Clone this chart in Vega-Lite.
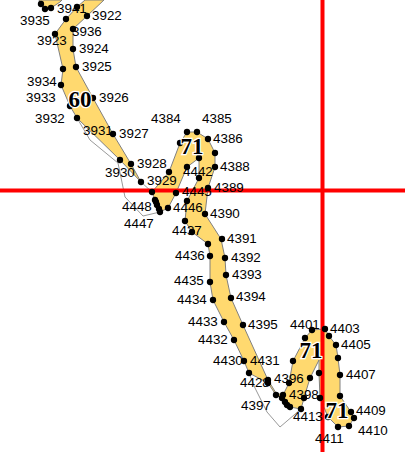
{"$schema":"https://vega.github.io/schema/vega-lite/v6.json","width":405,"height":452,"padding":0,"autosize":{"type":"none"},"background":"white","view":{"stroke":null},
"datasets":{
"polys":[
{"p":"a","o":1,"x":39,"y":0},{"p":"a","o":2,"x":41,"y":4},{"p":"a","o":3,"x":45,"y":9},{"p":"a","o":4,"x":51,"y":8},{"p":"a","o":5,"x":60,"y":2},{"p":"a","o":6,"x":62,"y":0},{"p":"a","o":7,"x":39,"y":0},
{"p":"b","o":1,"x":85,"y":0},{"p":"b","o":2,"x":77,"y":7},{"p":"b","o":3,"x":66,"y":19},{"p":"b","o":4,"x":55,"y":34},{"p":"b","o":5,"x":63,"y":69},{"p":"b","o":6,"x":61,"y":85},{"p":"b","o":7,"x":70,"y":106},{"p":"b","o":8,"x":77,"y":118},{"p":"b","o":9,"x":120,"y":160},{"p":"b","o":10,"x":141,"y":182},{"p":"b","o":11,"x":131,"y":164},{"p":"b","o":12,"x":113,"y":134},{"p":"b","o":13,"x":93,"y":98},{"p":"b","o":14,"x":76,"y":67},{"p":"b","o":15,"x":73,"y":49},{"p":"b","o":16,"x":73,"y":29},{"p":"b","o":17,"x":87,"y":16},{"p":"b","o":18,"x":104,"y":0},{"p":"b","o":19,"x":85,"y":0},
{"p":"c","o":1,"x":152,"y":192},{"p":"c","o":2,"x":169,"y":172},{"p":"c","o":3,"x":180,"y":143},{"p":"c","o":4,"x":187,"y":132},{"p":"c","o":5,"x":197,"y":132},{"p":"c","o":6,"x":208,"y":139},{"p":"c","o":7,"x":215,"y":153},{"p":"c","o":8,"x":215,"y":167},{"p":"c","o":9,"x":208,"y":188},{"p":"c","o":10,"x":205,"y":214},{"p":"c","o":11,"x":221,"y":239},{"p":"c","o":12,"x":225,"y":258},{"p":"c","o":13,"x":226,"y":275},{"p":"c","o":14,"x":231,"y":298},{"p":"c","o":15,"x":243,"y":325},{"p":"c","o":16,"x":268,"y":380},{"p":"c","o":17,"x":276,"y":393},{"p":"c","o":18,"x":283,"y":395},{"p":"c","o":19,"x":289,"y":383},{"p":"c","o":20,"x":293,"y":361},{"p":"c","o":21,"x":305,"y":338},{"p":"c","o":22,"x":312,"y":330},{"p":"c","o":23,"x":325,"y":329},{"p":"c","o":24,"x":329,"y":336},{"p":"c","o":25,"x":336,"y":345},{"p":"c","o":26,"x":338,"y":358},{"p":"c","o":27,"x":340,"y":375},{"p":"c","o":28,"x":340,"y":396},{"p":"c","o":29,"x":351,"y":412},{"p":"c","o":30,"x":354,"y":418},{"p":"c","o":31,"x":349,"y":426},{"p":"c","o":32,"x":338,"y":427},{"p":"c","o":33,"x":328,"y":417},{"p":"c","o":34,"x":320,"y":398},{"p":"c","o":35,"x":319,"y":373},{"p":"c","o":36,"x":319,"y":360},{"p":"c","o":37,"x":310,"y":378},{"p":"c","o":38,"x":304,"y":398},{"p":"c","o":39,"x":301,"y":409},{"p":"c","o":40,"x":290,"y":407},{"p":"c","o":41,"x":285,"y":402},{"p":"c","o":42,"x":282,"y":398},{"p":"c","o":43,"x":276,"y":395},{"p":"c","o":44,"x":268,"y":383},{"p":"c","o":45,"x":249,"y":373},{"p":"c","o":46,"x":244,"y":361},{"p":"c","o":47,"x":234,"y":340},{"p":"c","o":48,"x":224,"y":322},{"p":"c","o":49,"x":213,"y":300},{"p":"c","o":50,"x":210,"y":282},{"p":"c","o":51,"x":210,"y":256},{"p":"c","o":52,"x":208,"y":244},{"p":"c","o":53,"x":192,"y":232},{"p":"c","o":54,"x":185,"y":221},{"p":"c","o":55,"x":187,"y":201},{"p":"c","o":56,"x":199,"y":178},{"p":"c","o":57,"x":199,"y":158},{"p":"c","o":58,"x":187,"y":167},{"p":"c","o":59,"x":176,"y":193},{"p":"c","o":60,"x":168,"y":208},{"p":"c","o":61,"x":160,"y":212},{"p":"c","o":62,"x":157,"y":205},{"p":"c","o":63,"x":155,"y":200},{"p":"c","o":64,"x":152,"y":192}
],
"thin":[
{"p":"d","o":1,"x":77,"y":118},{"p":"d","o":2,"x":90,"y":140},{"p":"d","o":3,"x":118,"y":163},{"p":"d","o":4,"x":125,"y":197},{"p":"d","o":5,"x":143,"y":216},{"p":"d","o":6,"x":160,"y":212},
{"p":"e","o":1,"x":141,"y":182},{"p":"e","o":2,"x":152,"y":192},
{"p":"f","o":1,"x":249,"y":373},{"p":"f","o":2,"x":255,"y":388},{"p":"f","o":3,"x":267,"y":412},{"p":"f","o":4,"x":280,"y":427},{"p":"f","o":5,"x":301,"y":409}
],
"pts":[
{"x":41,"y":4},{"x":45,"y":9},{"x":51,"y":8},{"x":77,"y":7},{"x":66,"y":19},{"x":55,"y":34},{"x":63,"y":69},{"x":61,"y":85},{"x":70,"y":106},{"x":77,"y":118},{"x":120,"y":160},{"x":141,"y":182},{"x":131,"y":164},{"x":113,"y":134},{"x":93,"y":98},{"x":76,"y":67},{"x":73,"y":49},{"x":73,"y":29},{"x":87,"y":16},
{"x":152,"y":192},{"x":169,"y":172},{"x":180,"y":143},{"x":187,"y":132},{"x":197,"y":132},{"x":208,"y":139},{"x":215,"y":153},{"x":215,"y":167},{"x":208,"y":188},{"x":205,"y":214},{"x":222,"y":239},{"x":225,"y":258},{"x":226,"y":275},{"x":231,"y":298},{"x":243,"y":325},{"x":268,"y":380},{"x":268,"y":383},{"x":276,"y":395},{"x":283,"y":395},{"x":289,"y":383},{"x":293,"y":361},{"x":305,"y":338},{"x":312,"y":330},{"x":325,"y":329},{"x":329,"y":336},{"x":336,"y":345},{"x":338,"y":358},{"x":340,"y":375},{"x":340,"y":396},{"x":351,"y":412},{"x":354,"y":418},{"x":349,"y":426},{"x":338,"y":427},{"x":328,"y":417},{"x":320,"y":398},{"x":319,"y":373},{"x":310,"y":378},{"x":304,"y":398},{"x":301,"y":409},{"x":290,"y":407},{"x":287,"y":405},{"x":285,"y":402},{"x":282,"y":398},{"x":249,"y":373},{"x":244,"y":361},{"x":234,"y":340},{"x":224,"y":322},{"x":213,"y":300},{"x":210,"y":282},{"x":210,"y":256},{"x":208,"y":244},{"x":192,"y":232},{"x":185,"y":221},{"x":187,"y":201},{"x":199,"y":178},{"x":199,"y":158},{"x":187,"y":167},{"x":176,"y":193},{"x":168,"y":208},{"x":160,"y":212},{"x":159,"y":209},{"x":157,"y":205},{"x":156,"y":202},{"x":155,"y":200}
],
"labels":[
{"t":"3935","x":20,"y":21},{"t":"3941","x":57,"y":9},{"t":"3922","x":92,"y":16},{"t":"3936","x":72,"y":32},{"t":"3923","x":37,"y":41},{"t":"3924","x":79,"y":49},{"t":"3925","x":82,"y":67},{"t":"3934","x":27,"y":82},{"t":"3933","x":26,"y":98},{"t":"3926","x":99,"y":98},{"t":"3932","x":35,"y":119},{"t":"3931","x":83,"y":131},{"t":"3927","x":119,"y":134},{"t":"3928","x":137,"y":164},{"t":"3930","x":105,"y":173},{"t":"3929","x":147,"y":181},{"t":"4448","x":122,"y":207},{"t":"4447","x":124,"y":224},{"t":"4384","x":151,"y":119},{"t":"4385","x":202,"y":119},{"t":"4386","x":213,"y":139},{"t":"4388","x":220,"y":167},{"t":"4442","x":183,"y":172},{"t":"4445","x":182,"y":192},{"t":"4389","x":214,"y":188},{"t":"4446","x":173,"y":208},{"t":"4390","x":210,"y":214},{"t":"4437","x":172,"y":231},{"t":"4391","x":227,"y":239},{"t":"4436","x":175,"y":256},{"t":"4392","x":231,"y":258},{"t":"4393","x":232,"y":275},{"t":"4435","x":174,"y":281},{"t":"4394","x":236,"y":297},{"t":"4434","x":177,"y":300},{"t":"4433","x":188,"y":322},{"t":"4395","x":248,"y":325},{"t":"4432","x":198,"y":340},{"t":"4430","x":213,"y":361},{"t":"4431","x":250,"y":361},{"t":"4428","x":240,"y":383},{"t":"4396","x":274,"y":379},{"t":"4401","x":290,"y":325},{"t":"4403","x":330,"y":329},{"t":"4405","x":341,"y":345},{"t":"4407","x":346,"y":375},{"t":"4398","x":289,"y":395},{"t":"4397","x":241,"y":406},{"t":"4413","x":293,"y":417},{"t":"4409","x":356,"y":411},{"t":"4410","x":358,"y":431},{"t":"4411","x":315,"y":439}
],
"zones":[{"t":"60","x":80,"y":100},{"t":"71","x":192,"y":147},{"t":"71","x":311,"y":351},{"t":"71","x":337,"y":411}],
"hline":[{"y":190.5}],"vline":[{"x":322.5}]
},
"layer":[
{"data":{"name":"polys"},"mark":{"type":"line","fill":"#FFD96F","filled":true,"stroke":"#808080","strokeWidth":1},"encoding":{"x":{"field":"x","type":"quantitative","scale":{"domain":[0,405],"nice":false,"zero":false},"axis":null},"y":{"field":"y","type":"quantitative","scale":{"domain":[452,0],"nice":false,"zero":false},"axis":null},"detail":{"field":"p"},"order":{"field":"o"}}},
{"data":{"name":"thin"},"mark":{"type":"line","stroke":"#999999","strokeWidth":1},"encoding":{"x":{"field":"x","type":"quantitative","axis":null},"y":{"field":"y","type":"quantitative","axis":null},"detail":{"field":"p"},"order":{"field":"o"}}},
{"data":{"name":"hline"},"mark":{"type":"rule","color":"#FF0000","strokeWidth":4},"encoding":{"y":{"field":"y","type":"quantitative","axis":null}}},
{"data":{"name":"vline"},"mark":{"type":"rule","color":"#FF0000","strokeWidth":4},"encoding":{"x":{"field":"x","type":"quantitative","axis":null}}},
{"data":{"name":"pts"},"mark":{"type":"circle","color":"#000000","opacity":1,"size":40},"encoding":{"x":{"field":"x","type":"quantitative","axis":null},"y":{"field":"y","type":"quantitative","axis":null}}},
{"data":{"name":"labels"},"mark":{"type":"text","align":"left","baseline":"middle","font":"Liberation Sans","fontSize":13.4,"color":"#000000"},"encoding":{"x":{"field":"x","type":"quantitative","axis":null},"y":{"field":"y","type":"quantitative","axis":null},"text":{"field":"t"}}},
{"data":{"name":"zones"},"mark":{"type":"text","align":"center","baseline":"middle","font":"Liberation Serif","fontWeight":"bold","fontSize":23,"stroke":"white","strokeWidth":2.5,"color":"#ffffff"},"encoding":{"x":{"field":"x","type":"quantitative","axis":null},"y":{"field":"y","type":"quantitative","axis":null},"text":{"field":"t"}}},
{"data":{"name":"zones"},"mark":{"type":"text","align":"center","baseline":"middle","font":"Liberation Serif","fontWeight":"bold","fontSize":23,"color":"#000000"},"encoding":{"x":{"field":"x","type":"quantitative","axis":null},"y":{"field":"y","type":"quantitative","axis":null},"text":{"field":"t"}}}
]}
